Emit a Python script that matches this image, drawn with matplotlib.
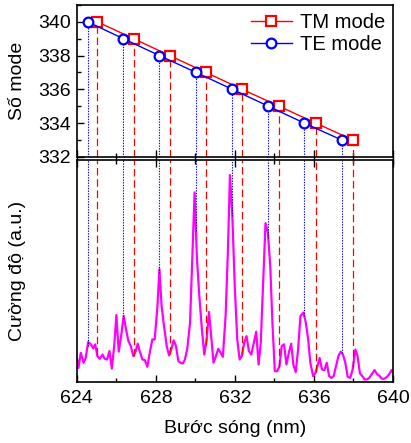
import matplotlib
matplotlib.use('Agg')
import matplotlib.pyplot as plt
from matplotlib.ticker import MultipleLocator
import numpy as np

plt.rcParams['font.family'] = ['Liberation Sans', 'DejaVu Sans']

# mode numbers and their wavelengths (nm)
mode_te = [340, 339, 338, 337, 336, 335, 334, 333]
wl_te = [624.54, 626.35, 628.17, 630.03, 631.87, 633.69, 635.51, 637.40]
mode_tm = [340, 339, 338, 337, 336, 335, 334, 333]
wl_tm = [625.03, 626.87, 628.69, 630.53, 632.37, 634.23, 636.09, 637.97]

# measured spectrum (a.u.)
wl_spec = [624.00, 624.08, 624.20, 624.34, 624.45, 624.57, 624.71, 624.83, 624.93, 625.04,
           625.16, 625.30, 625.41, 625.53, 625.65, 625.77, 625.89, 626.00, 626.12, 626.24,
           626.37, 626.49, 626.61, 626.73, 626.86, 626.98, 627.08, 627.18, 627.32, 627.44,
           627.57, 627.69, 627.82, 627.94, 628.08, 628.18, 628.29, 628.41, 628.55, 628.67,
           628.78, 628.90, 629.02, 629.14, 629.25, 629.37, 629.47, 629.59, 629.73, 629.84,
           629.96, 630.08, 630.20, 630.33, 630.45, 630.57, 630.69, 630.80, 630.92, 631.04,
           631.16, 631.28, 631.39, 631.53, 631.65, 631.75, 631.87, 632.00, 632.12, 632.24,
           632.35, 632.47, 632.59, 632.71, 632.83, 632.96, 633.08, 633.20, 633.31, 633.43,
           633.55, 633.67, 633.79, 633.90, 634.02, 634.14, 634.26, 634.37, 634.49, 634.61,
           634.73, 634.85, 634.96, 635.08, 635.20, 635.32, 635.47, 635.59, 635.71, 635.82,
           635.96, 636.08, 636.19, 636.29, 636.41, 636.53, 636.65, 636.77, 636.88, 637.00,
           637.12, 637.24, 637.36, 637.47, 637.59, 637.71, 637.84, 637.96, 638.10, 638.21,
           638.33, 638.45, 638.57, 638.69, 638.80, 638.92, 639.07, 639.19, 639.33, 639.44,
           639.56, 639.68, 639.80, 639.93, 640.00]
intensity = [0.108, 0.063, 0.131, 0.086, 0.108, 0.179, 0.169, 0.151, 0.169, 0.116,
             0.104, 0.123, 0.104, 0.101, 0.139, 0.060, 0.161, 0.301, 0.136, 0.206,
             0.297, 0.236, 0.184, 0.161, 0.116, 0.139, 0.172, 0.139, 0.101, 0.098,
             0.068, 0.131, 0.191, 0.191, 0.342, 0.508, 0.342, 0.252, 0.161, 0.119,
             0.146, 0.187, 0.161, 0.093, 0.086, 0.083, 0.101, 0.149, 0.267, 0.553,
             0.854, 0.553, 0.387, 0.236, 0.123, 0.191, 0.315, 0.206, 0.086, 0.116,
             0.149, 0.131, 0.113, 0.297, 0.598, 0.932, 0.748, 0.417, 0.191, 0.101,
             0.116, 0.176, 0.206, 0.139, 0.123, 0.176, 0.226, 0.078, 0.176, 0.447,
             0.715, 0.673, 0.523, 0.267, 0.048, 0.048, 0.071, 0.161, 0.169, 0.078,
             0.131, 0.172, 0.078, 0.044, 0.146, 0.297, 0.312, 0.267, 0.191, 0.086,
             0.026, 0.041, 0.074, 0.108, 0.056, 0.053, 0.086, 0.026, 0.018, 0.026,
             0.071, 0.116, 0.136, 0.123, 0.086, 0.023, 0.018, 0.056, 0.146, 0.116,
             0.038, 0.026, 0.011, 0.011, 0.018, 0.033, 0.053, 0.036, 0.026, 0.014,
             0.014, 0.021, 0.033, 0.053, 0.041]

fs = 14

fig = plt.figure(figsize=(4.11, 4.43), dpi=100)
ax1 = fig.add_axes([0.187, 0.646, 0.769, 0.343])
ax2 = fig.add_axes([0.187, 0.138, 0.769, 0.501])

# top panel
ax1.vlines(wl_te, 332, mode_te, colors='#0000ff', linestyles=(0, (1.2, 1.2)), lw=0.8)
ax1.vlines(wl_tm, 332, mode_tm, colors='#ff0000', linestyles=(0, (6, 3)), lw=0.9)
ax1.plot(wl_tm, mode_tm, '-s', color='#ff0000', mfc='white', mec='#ff0000', ms=6.5, mew=1.6, lw=1, label='TM mode')
ax1.plot(wl_te, mode_te, '-o', color='#0000ff', mfc='white', mec='#0000ff', ms=7, mew=1.6, lw=1, label='TE mode')
ax1.set_xlim(624, 640)
ax1.set_ylim(332, 341)
ax1.set_yticks([332, 334, 336, 338, 340])
ax1.yaxis.set_minor_locator(MultipleLocator(1))
ax1.xaxis.set_major_locator(MultipleLocator(4))
ax1.xaxis.set_minor_locator(MultipleLocator(2))
ax1.set_xticklabels([])
ax1.tick_params(axis='x', which='major', direction='inout', length=10, width=1)
ax1.tick_params(axis='x', which='minor', direction='inout', length=6, width=1)
ax1.tick_params(axis='y', which='major', direction='in', length=5, width=1, labelsize=fs, pad=4)
ax1.tick_params(axis='y', which='minor', direction='in', length=3, width=1)
ax1.set_ylabel('Số mode', fontsize=fs)
ax1.yaxis.set_label_coords(-0.16, 0.5)
ax1.legend(loc='upper right', frameon=False, fontsize=14.5, handlelength=2.0,
           borderaxespad=0.0, handletextpad=0.4, labelspacing=0.15)

# bottom panel
ax2.plot(wl_spec, intensity, color='#ff00ff', lw=1.6)
ax2.vlines(wl_te, np.interp(wl_te, wl_spec, intensity), 1, colors='#0000ff', linestyles=(0, (1.2, 1.2)), lw=0.8)
ax2.vlines(wl_tm, np.interp(wl_tm, wl_spec, intensity), 1, colors='#ff0000', linestyles=(0, (6, 3)), lw=0.9)
ax2.set_xlim(624, 640)
ax2.set_ylim(0, 1)
ax2.set_yticks([])
ax2.xaxis.set_major_locator(MultipleLocator(4))
ax2.xaxis.set_minor_locator(MultipleLocator(2))
ax2.tick_params(axis='x', which='major', direction='in', length=5, width=1, top=True, labelsize=fs, pad=6)
ax2.tick_params(axis='x', which='minor', direction='in', length=3, width=1, top=True)
ax2.set_xlabel('Bước sóng (nm)', fontsize=fs, labelpad=9)
ax2.set_ylabel('Cường độ (a.u.)', fontsize=fs)
ax2.yaxis.set_label_coords(-0.16, 0.5)

for ax in (ax1, ax2):
    for s in ax.spines.values():
        s.set_linewidth(1.2)

fig.savefig('out.png', dpi=100)
